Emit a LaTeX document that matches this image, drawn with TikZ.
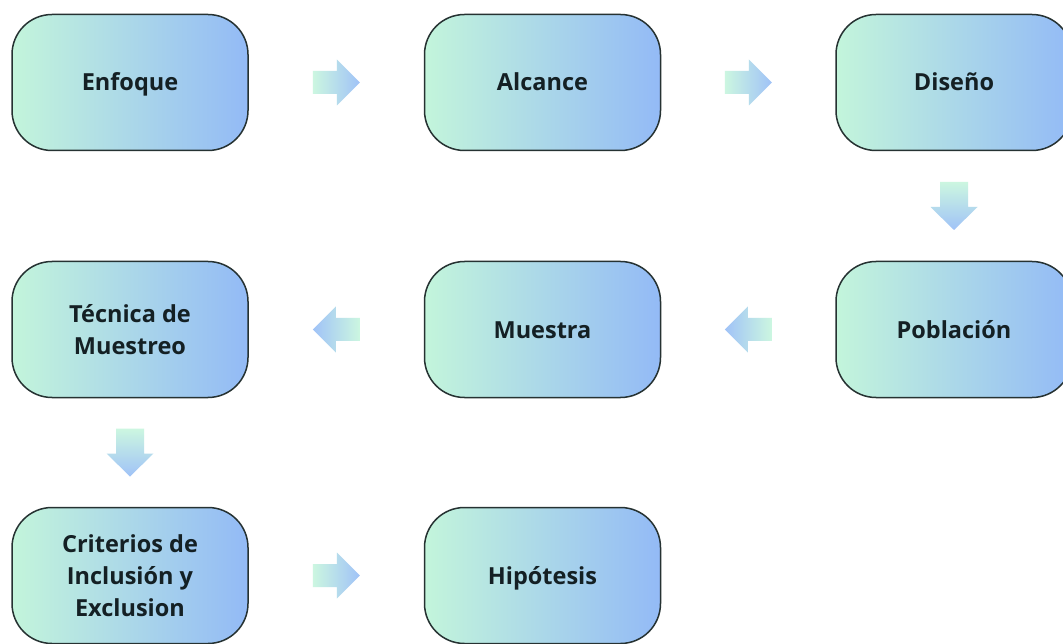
\documentclass[tikz,border=0pt]{standalone}
\usepackage{fontspec}
\setmainfont{Open Sans}
\usetikzlibrary{calc}

\definecolor{mint}{HTML}{C3F5DB}
\definecolor{sky}{HTML}{93BAF6}
\definecolor{edge}{HTML}{263232}
\definecolor{ink}{HTML}{142024}
\colorlet{arrowtail}{mint!85!white}
\colorlet{arrowhead}{sky!88!white}

\tikzset{
  stage/.style={rounded corners=40pt, draw=edge, line width=1.5pt,
    left color=mint, right color=sky,
    minimum width=236pt, minimum height=136pt, inner sep=0pt,
    align=center, text=ink, font=\fontsize{23.5}{32}\selectfont\bfseries},
  % one-line labels are centred on their capitals
  oneline/.style={text height=17pt, text depth=0pt},
  arrowE/.pic={\shade[left color=arrowtail, right color=arrowhead]
    (-23.5,-11.5) -- (0.5,-11.5) -- (0.5,-23) -- (23.5,0) -- (0.5,23) -- (0.5,11.5) -- (-23.5,11.5) -- cycle;},
  arrowW/.pic={\shade[left color=arrowhead, right color=arrowtail]
    (23.5,-11.5) -- (-0.5,-11.5) -- (-0.5,-23) -- (-23.5,0) -- (-0.5,23) -- (-0.5,11.5) -- (23.5,11.5) -- cycle;},
  arrowS/.pic={\shade[top color=arrowtail, bottom color=arrowhead]
    (-14,-24) -- (14,-24) -- (14,1) -- (23.5,1) -- (0,24) -- (-23.5,1) -- (-14,1) -- cycle;},
}

\begin{document}
\begin{tikzpicture}[x=1pt, y=-1pt]
  \clip (0,0) rectangle (1063,644);
  \fill[white] (0,0) rectangle (1063,644);

  % process stages
  \node[stage, oneline] (enfoque)    at (130,82.5)    {Enfoque};
  \node[stage, oneline] (alcance)    at (542.5,82.5)  {Alcance};
  \node[stage, oneline] (diseno)     at (954,82.5)    {Diseño};
  \node[stage, oneline] (poblacion)  at (954,329.5)   {Población};
  \node[stage, oneline] (muestra)    at (542.5,329.5) {Muestra};
  \node[stage] (tecnica)    at (130,329.5)   {Técnica de\\Muestreo};
  \node[stage] (criterios)  at (130,575.5)   {Criterios de\\Inclusión y\\Exclusion};
  \node[stage, oneline] (hipotesis)  at (542.5,575.5) {Hipótesis};

  % flow arrows between stages
  \pic at ($(enfoque.east)!0.5!(alcance.west)$) {arrowE};
  \pic at ($(alcance.east)!0.5!(diseno.west)$) {arrowE};
  \pic at ($(diseno.south)!0.5!(poblacion.north)$) {arrowS};
  \pic at ($(poblacion.west)!0.5!(muestra.east)$) {arrowW};
  \pic at ($(muestra.west)!0.5!(tecnica.east)$) {arrowW};
  \pic at ($(tecnica.south)!0.5!(criterios.north)$) {arrowS};
  \pic at ($(criterios.east)!0.5!(hipotesis.west)$) {arrowE};
\end{tikzpicture}
\end{document}
